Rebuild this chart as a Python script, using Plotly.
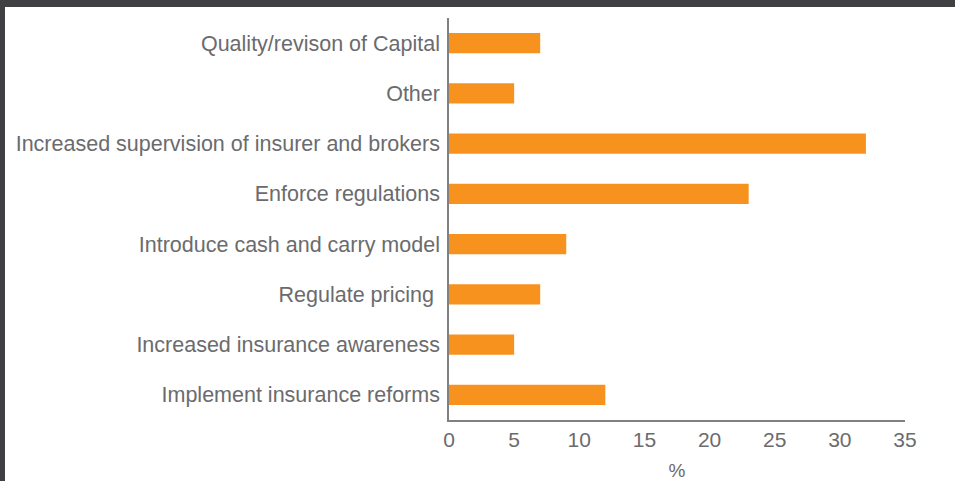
import plotly.graph_objects as go

categories = [
    "Implement insurance reforms",
    "Increased insurance awareness",
    "Regulate pricing ",
    "Introduce cash and carry model",
    "Enforce regulations",
    "Increased supervision of insurer and brokers",
    "Other",
    "Quality/revison of Capital",
]
values = [12, 5, 7, 9, 23, 32, 5, 7]
x_ticks = [0, 5, 10, 15, 20, 25, 30, 35]

W, H = 955, 481
L, R, T, B = 449, 905, 18, 420

def px(xp):
    return (xp - L) / (R - L)

def py(yp):
    return (B - yp) / (B - T)

text_color = "#6b6b6d"
axis_color = "#808080"
dark = "#404042"

fig = go.Figure(
    go.Bar(
        y=categories,
        x=values,
        orientation="h",
        marker=dict(color="#f7921f", line=dict(width=0)),
        width=0.4,
        hoverinfo="x+y",
    )
)

fig.update_layout(
    width=W,
    height=H,
    autosize=False,
    margin=dict(l=L, r=W - R, t=T, b=H - B, pad=0, autoexpand=False),
    paper_bgcolor="white",
    plot_bgcolor="white",
    font=dict(family="Liberation Sans, Arial, sans-serif", size=21.5, color=text_color),
    showlegend=False,
    xaxis=dict(
        range=[0, 35],
        tickvals=x_ticks,
        ticktext=[str(v) for v in x_ticks],
        showgrid=False,
        zeroline=False,
        showline=True,
        linecolor=axis_color,
        linewidth=1.5,
        ticks="",
        ticklabelstandoff=0,
        automargin=False,
        tickfont=dict(size=21, color=text_color),
        title=dict(text="%", font=dict(size=19, color=text_color), standoff=20),
        fixedrange=True,
    ),
    yaxis=dict(
        range=[-0.5, 7.5],
        showgrid=False,
        zeroline=False,
        showline=True,
        linecolor=axis_color,
        linewidth=1.5,
        ticks="",
        ticklabelstandoff=3,
        automargin=False,
        tickfont=dict(size=21.5, color=text_color),
        fixedrange=True,
    ),
    shapes=[
        dict(type="rect", xref="paper", yref="paper",
             x0=px(0), x1=px(W), y0=py(7), y1=py(0),
             fillcolor=dark, line=dict(width=0), layer="above"),
        dict(type="rect", xref="paper", yref="paper",
             x0=px(0), x1=px(5), y0=py(H), y1=py(0),
             fillcolor=dark, line=dict(width=0), layer="above"),
    ],
)

fig.write_html(
    "out.html",
    config={"displayModeBar": False},
    post_script="document.body.style.margin='0';document.body.style.overflow='hidden';",
)
